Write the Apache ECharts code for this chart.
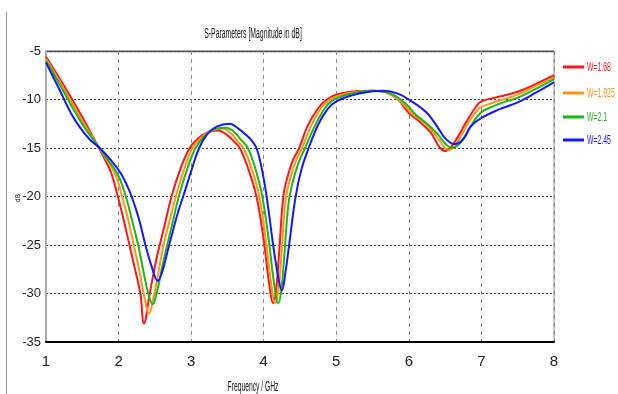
<!DOCTYPE html>
<html><head><meta charset="utf-8">
<script src="https://cdn.jsdelivr.net/npm/echarts@6/dist/echarts.min.js"></script>
<style>html,body{margin:0;padding:0;background:#fff}#c{width:618px;height:394px}</style>
</head><body><div id="c"></div>
<script>
var seriesNames = ['W=1.68', 'W=1.925', 'W=2.1', 'W=2.45'];
var xTicks = [1, 2, 3, 4, 5, 6, 7, 8];
var yTicks = [-35, -30, -25, -20, -15, -10, -5];
var titleText = 'S-Parameters [Magnitude in dB]';
var xName = 'Frequency / GHz';
var yName = 'dB';

var freqW168 = [1.0,1.2,1.4,1.55,1.7,1.8,1.9,1.99,2.07,2.15,2.22,2.3,2.35,2.43,2.52,2.62,2.73,2.85,2.98,3.1,3.22,3.37,3.5,3.6,3.67,3.78,3.9,4.0,4.07,4.13,4.17,4.21,4.27,4.32,4.4,4.49,4.6,4.75,4.87,5.0,5.2,5.5,5.65,5.85,6.0,6.15,6.3,6.42,6.5,6.58,6.68,6.8,6.92,7.0,7.25,7.5,7.75,8.0];
var dbW168 = [-5.6,-8.0,-10.5,-12.5,-14.6,-16.0,-17.6,-20.0,-22.4,-25.0,-27.3,-30.0,-33.1,-30.0,-26.5,-23.4,-20.0,-17.2,-15.0,-14.0,-13.4,-13.2,-13.7,-14.4,-15.0,-17.0,-20.0,-24.5,-28.7,-31.0,-29.7,-26.0,-20.0,-18.2,-16.3,-15.0,-12.8,-10.9,-10.0,-9.5,-9.2,-9.1,-9.2,-10.0,-11.4,-12.3,-13.4,-14.9,-15.3,-14.9,-13.8,-12.2,-10.8,-10.2,-9.7,-9.2,-8.4,-7.5];

var freqW1925 = [1.0,1.2,1.4,1.55,1.7,1.8,1.95,2.05,2.13,2.21,2.29,2.36,2.42,2.48,2.55,2.62,2.7,2.79,2.9,3.02,3.13,3.25,3.43,3.55,3.63,3.72,3.83,3.94,4.03,4.1,4.16,4.2,4.24,4.3,4.36,4.44,4.53,4.65,4.8,4.92,5.0,5.2,5.5,5.7,5.9,6.05,6.2,6.35,6.47,6.55,6.63,6.73,6.85,6.97,7.05,7.25,7.5,7.75,8.0];
var dbW1925 = [-5.8,-8.3,-10.9,-12.8,-14.6,-15.8,-17.6,-20.0,-22.3,-25.0,-27.8,-30.5,-32.1,-30.5,-27.8,-25.0,-22.6,-20.0,-17.3,-15.0,-14.0,-13.3,-13.0,-13.5,-14.2,-15.0,-17.0,-20.0,-24.5,-28.8,-31.0,-29.8,-26.5,-20.5,-18.3,-16.4,-15.0,-12.8,-10.8,-10.0,-9.7,-9.3,-9.1,-9.3,-10.3,-11.5,-12.3,-13.5,-14.7,-15.2,-14.8,-13.6,-12.0,-10.9,-10.6,-10.1,-9.5,-8.6,-7.7];

var freqW21 = [1.0,1.2,1.4,1.55,1.7,1.8,1.98,2.1,2.18,2.27,2.35,2.42,2.47,2.53,2.6,2.67,2.75,2.83,2.94,3.06,3.17,3.3,3.48,3.6,3.68,3.78,3.88,3.98,4.07,4.14,4.2,4.24,4.28,4.34,4.4,4.48,4.57,4.7,4.85,4.95,5.0,5.2,5.5,5.75,5.95,6.1,6.25,6.4,6.52,6.6,6.68,6.78,6.9,7.0,7.1,7.3,7.5,7.75,8.0];
var dbW21 = [-6.0,-8.6,-11.3,-13.1,-14.6,-15.7,-17.6,-20.0,-22.3,-25.0,-28.0,-30.3,-31.1,-29.8,-27.3,-25.0,-22.5,-20.0,-17.3,-15.0,-13.9,-13.1,-12.9,-13.4,-14.1,-15.0,-17.0,-20.0,-24.5,-28.8,-31.0,-29.8,-26.5,-20.8,-18.5,-16.5,-15.0,-12.8,-10.8,-10.1,-9.9,-9.4,-9.1,-9.4,-10.4,-11.6,-12.5,-13.6,-14.7,-15.0,-14.7,-13.7,-12.2,-11.3,-10.9,-10.3,-9.8,-8.9,-7.9];

var freqW245 = [1.0,1.2,1.35,1.47,1.6,1.74,1.9,2.03,2.1,2.18,2.28,2.37,2.46,2.54,2.6,2.67,2.75,2.82,2.89,3.0,3.11,3.22,3.35,3.53,3.65,3.78,3.84,3.9,3.97,4.04,4.13,4.2,4.25,4.3,4.35,4.44,4.52,4.62,4.75,4.88,5.0,5.2,5.45,5.65,5.85,6.04,6.25,6.4,6.5,6.63,6.75,6.85,7.0,7.25,7.5,7.75,8.0];
var dbW245 = [-6.2,-9.2,-11.5,-12.9,-14.1,-15.0,-16.3,-17.6,-18.6,-20.0,-22.3,-25.0,-27.3,-28.7,-27.8,-25.8,-23.5,-21.6,-20.0,-17.4,-15.0,-13.6,-12.8,-12.5,-13.0,-13.8,-14.3,-15.0,-17.0,-20.0,-25.0,-28.3,-29.7,-27.8,-25.0,-20.0,-17.2,-15.0,-12.6,-11.0,-10.2,-9.6,-9.2,-9.1,-9.4,-10.2,-11.4,-12.9,-14.0,-14.6,-14.1,-12.8,-11.9,-11.0,-10.3,-9.3,-8.2];

var colors = ['#ff1515', '#ff9418', '#18b818', '#1515ff'];
var freqs = [freqW168, freqW1925, freqW21, freqW245];
var dbs = [dbW168, dbW1925, dbW21, dbW245];

function pairs(f, v) { return f.map(function (x, i) { return [x, v[i]]; }); }

var FONT = "'Liberation Sans', Arial, sans-serif";

var legendY = [67, 93, 117, 140];
var legendGraphics = [];
seriesNames.forEach(function (n, i) {
  legendGraphics.push({ type: 'line', silent: true,
    shape: { x1: 563, y1: legendY[i], x2: 584, y2: legendY[i] },
    style: { stroke: colors[i], lineWidth: 3 } });
  legendGraphics.push({ type: 'text', silent: true, x: 587, y: legendY[i], scaleX: 0.53,
    style: { text: n, fill: colors[i], font: '13px ' + FONT, textAlign: 'left', textVerticalAlign: 'middle' } });
});

var chart = echarts.init(document.getElementById('c'), null, { renderer: 'canvas' });
chart.setOption({
  animation: false,
  backgroundColor: '#ffffff',
  color: colors,
  grid: { left: 46, right: 64, top: 51, bottom: 52, containLabel: false, outerBoundsMode: 'none',
    show: true, borderColor: '#888', borderWidth: 1 },
  xAxis: {
    type: 'value', min: 1, max: 8, interval: 1,
    axisLine: { onZero: false, lineStyle: { color: '#000', width: 2 } },
    axisTick: { show: false },
    axisLabel: { fontFamily: FONT, fontSize: 15, color: '#222', margin: 12,
      formatter: function (v) { return xTicks.indexOf(v) >= 0 ? String(v) : ''; } },
    splitLine: { show: true, lineStyle: { color: '#8a8a8a', type: [4, 4], width: 1 } }
  },
  yAxis: {
    type: 'value', min: -35, max: -5, interval: 5,
    axisLine: { show: true, onZero: false, lineStyle: { color: '#aaa', width: 2 } },
    axisTick: { show: false },
    axisLabel: { fontFamily: FONT, fontSize: 13, color: '#222', margin: 5,
      formatter: function (v) { return yTicks.indexOf(v) >= 0 ? String(v) : ''; } },
    splitLine: { show: true, lineStyle: { color: '#444', type: [2, 2], width: 1 } }
  },
  graphic: [
    { type: 'line', shape: { x1: 6.5, y1: 12, x2: 6.5, y2: 394 }, style: { stroke: '#999', lineWidth: 1 }, silent: true },
    { type: 'line', shape: { x1: 46, y1: 51.5, x2: 554, y2: 51.5 }, style: { stroke: '#555', lineWidth: 1.5 }, silent: true },
    { type: 'text', silent: true, x: 253, y: 34, scaleX: 0.49,
      style: { text: titleText, fill: '#111', font: '14px ' + FONT, textAlign: 'center', textVerticalAlign: 'middle' } },
    { type: 'text', silent: true, x: 253, y: 387, scaleX: 0.48,
      style: { text: xName, fill: '#111', font: '14px ' + FONT, textAlign: 'center', textVerticalAlign: 'middle' } },
    { type: 'text', silent: true, x: 18, y: 198, rotation: Math.PI / 2, scaleX: 0.8,
      style: { text: yName, fill: '#222', font: '8px ' + FONT, textAlign: 'center', textVerticalAlign: 'middle' } }
  ].concat(legendGraphics),
  series: seriesNames.map(function (n, i) {
    return {
      name: n, type: 'line', smooth: 0.4, showSymbol: false, symbol: 'none',
      lineStyle: { width: 2, color: colors[i] },
      data: pairs(freqs[i], dbs[i])
    };
  })
});
</script></body></html>
